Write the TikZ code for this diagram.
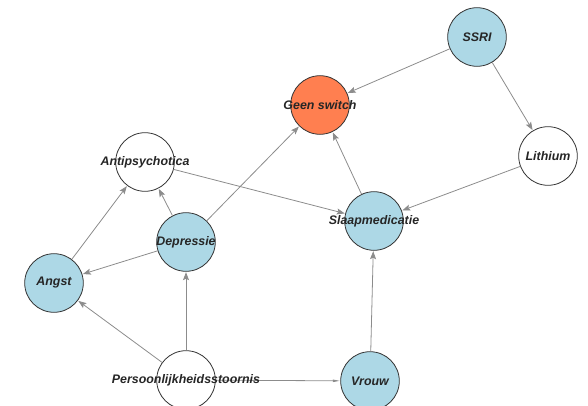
\documentclass[tikz,border=0pt]{standalone}
\usepackage{fontspec}
\setmainfont{Liberation Sans}
\usetikzlibrary{arrows.meta}
\definecolor{nodeblue}{HTML}{ADD8E6}
\definecolor{nodecoral}{HTML}{FF7F50}
\definecolor{edgegray}{HTML}{8C8C8C}
\tikzset{
  vnode/.style={circle, draw=black!80, line width=0.8pt, minimum size=58.6pt, inner sep=0pt},
  bluenode/.style={vnode, fill=nodeblue},
  whitenode/.style={vnode, fill=white},
  coralnode/.style={vnode, fill=nodecoral},
  lbl/.style={font=\fontsize{12.4}{14}\selectfont\bfseries\itshape, text=black!85, inner sep=0pt},
  edge/.style={draw=edgegray, line width=0.8pt, -{Stealth[length=8pt,width=6pt,inset=1.5pt]}, shorten >=0.5pt},
  flatedge/.style={draw=edgegray, line width=0.8pt, -{Stealth[length=7pt,width=2.4pt,inset=0pt]}, shorten >=0.5pt}
}
\begin{document}
\begin{tikzpicture}[x=1pt,y=-1pt]
\useasboundingbox (0,0) rectangle (588,406);
\clip (0,0) rectangle (588,406);
% nodes (circles)
\node[bluenode]  (ssri)  at (477,37)  {};
\node[coralnode] (geen)  at (320,105) {};
\node[whitenode] (lith)  at (548,156) {};
\node[whitenode] (anti)  at (145,162) {};
\node[bluenode]  (dep)   at (186,242) {};
\node[bluenode]  (angst) at (54,283)  {};
\node[bluenode]  (slaap) at (374,221) {};
\node[whitenode] (pers)  at (186,380) {};
\node[bluenode]  (vrouw) at (370,381) {};
% edges
\draw[edge] (ssri) -- (geen);
\draw[edge] (ssri) -- (lith);
\draw[edge] (lith) -- (slaap);
\draw[edge] (slaap) -- (geen);
\draw[edge] (anti) -- (slaap);
\draw[edge] (dep) -- (geen);
\draw[edge] (dep) -- (anti);
\draw[edge] (dep) -- (angst);
\draw[edge] (angst) -- (anti);
\draw[edge] (pers) -- (angst);
\draw[edge] (pers) -- (dep);
\draw[flatedge] (pers) -- (vrouw);
\draw[edge] (vrouw) -- (slaap);
% labels
\node[lbl] (ssril)  at (ssri)  {SSRI};
\node[lbl] (geenl)  at (geen)  {Geen switch};
\node[lbl] (lithl)  at (lith)  {Lithium};
\node[lbl] (antil)  at (anti)  {Antipsychotica};
\node[lbl] (depl)   at (dep)   {Depressie};
\node[lbl] (angstl) at (angst) {Angst};
\node[lbl] (slaapl) at (slaap) {Slaapmedicatie};
\node[lbl] (persl)  at (pers)  {Persoonlijkheidsstoornis};
\node[lbl] (vrouwl) at (vrouw) {Vrouw};
\end{tikzpicture}
\end{document}
